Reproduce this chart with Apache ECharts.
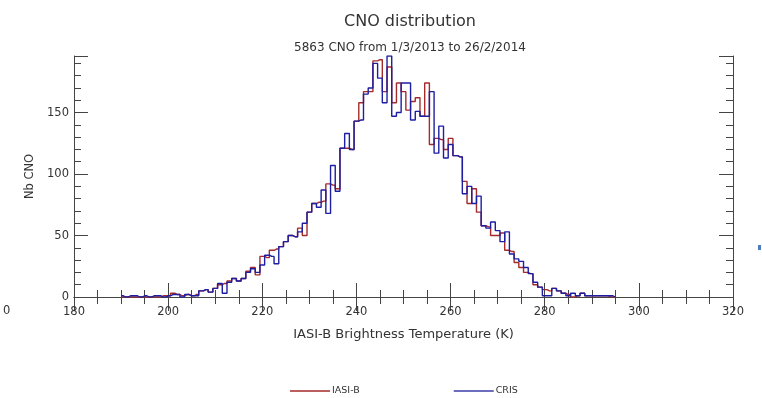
<!DOCTYPE html>
<html><head><meta charset="utf-8">
<script src="https://cdn.jsdelivr.net/npm/echarts@6/dist/echarts.min.js"></script>
<style>html,body{margin:0;padding:0;background:#fff}#c{width:762px;height:398px}</style>
</head><body><div id="c"></div>
<script>
// Bin centres (K), 1 K bins starting at 190 K
const binStart = 190;
const iasiB = [
  0,0,0,0,0,0,0,0,0,1,
  1,3,2,1,2,1,2,5,6,4,
  7,10,11,13,15,13,15,21,24,18,
  33,32,38,39,41,45,50,49,56,50,
  69,76,77,78,92,91,88,121,121,120,
  143,158,167,167,192,193,167,187,158,174,
  167,152,159,162,147,174,124,129,128,120,
  129,115,114,94,76,88,69,58,57,50,
  50,52,38,37,28,24,20,19,10,8,
  6,5,7,5,3,2,0,1,3,1,
  1,1,1,1,0,0
];
const cris = [
  1,0,1,1,0,1,0,1,1,0,
  1,2,2,0,2,1,1,5,6,4,
  7,11,3,12,15,13,15,20,23,20,
  26,34,33,27,41,45,50,49,53,60,
  69,76,73,87,68,107,86,121,133,120,
  143,144,165,170,190,178,158,196,147,150,
  174,174,144,151,147,147,167,117,139,113,
  124,115,114,84,90,76,82,58,56,61,
  54,45,53,35,31,29,24,19,12,8,
  1,1,7,5,3,1,3,1,3,1,
  1,1,1,1,1,0
];
const xTickLabels = [180,200,220,240,260,280,300,320];
const yTickLabels = [0,50,100,150];
const seriesNames = ['IASI-B','CRIS'];

const toPts = arr => arr.map((v,i) => [binStart + i, v]);
const FONT = 'DejaVu Sans';
const TXT = '#333';
const AX = '#444';

const chart = echarts.init(document.getElementById('c'), null, {renderer:'canvas'});
const common = {
  axisLine:{show:true, lineStyle:{color:AX, width:1}},
  splitLine:{show:false},
  axisTick:{show:true, inside:true, length:14, lineStyle:{color:AX}},
};
chart.setOption({
  animation:false,
  backgroundColor:'#fff',
  title:[
    {text:'CNO distribution', top:9, left:405, textAlign:'center', textStyle:{fontFamily:FONT, fontSize:16, fontWeight:'normal', color:TXT}},
    {text:'5863 CNO from 1/3/2013 to 26/2/2014', top:37, left:405, textAlign:'center', textStyle:{fontFamily:FONT, fontSize:12, fontWeight:'normal', color:TXT}}
  ],
  grid:{left:74, right:29, top:56, bottom:101},
  legend:{
    left:285, top:381, icon:'rect', itemWidth:40, itemHeight:1.5, itemGap:94,
    data:seriesNames,
    textStyle:{fontFamily:FONT, fontSize:9.5, color:TXT, padding:[0,0,0,-3]}
  },
  xAxis:[
    Object.assign({type:'value', min:xTickLabels[0], max:xTickLabels[xTickLabels.length-1], interval:20, position:'bottom',
      minorTick:{show:true, splitNumber:4, length:7, lineStyle:{color:AX}},
      axisLabel:{fontFamily:FONT, fontSize:11.5, color:TXT, margin:9},
      name:'IASI-B Brightness Temperature (K)', nameLocation:'middle', nameGap:31,
      nameTextStyle:{fontFamily:FONT, fontSize:13, color:TXT}}, common),
    Object.assign({type:'value', min:xTickLabels[0], max:xTickLabels[xTickLabels.length-1], interval:20, position:'top',
      minorTick:{show:true, splitNumber:4, length:7, lineStyle:{color:AX}},
      axisLabel:{show:false}}, common)
  ],
  yAxis:[
    Object.assign({type:'value', min:0, max:196, interval:50, position:'left',
      minorTick:{show:true, splitNumber:5, length:7, lineStyle:{color:AX}},
      axisLabel:{fontFamily:FONT, fontSize:11.5, color:TXT, margin:5, showMaxLabel:false,
        formatter: v => yTickLabels.includes(v) ? String(v) : ''},
      name:'Nb CNO', nameLocation:'middle', nameGap:37,
      nameTextStyle:{fontFamily:FONT, fontSize:11.5, color:TXT}}, common),
    Object.assign({type:'value', min:0, max:196, interval:50, position:'right',
      minorTick:{show:true, splitNumber:5, length:7, lineStyle:{color:AX}},
      axisLabel:{show:false}}, common)
  ],
  series:[
    {name:seriesNames[0], type:'line', step:'middle', showSymbol:false, data:toPts(iasiB),
     lineStyle:{color:'#a52a2a', width:1.4}, itemStyle:{color:'#a52a2a'}},
    {name:seriesNames[1], type:'line', step:'middle', showSymbol:false, data:toPts(cris),
     lineStyle:{color:'#1e1ea2', width:1.4}, itemStyle:{color:'#3c3ca8'}}
  ],
  graphic:[
    {type:'text', left:3, top:305, style:{text:'0', fontFamily:FONT, fontSize:11.5, fill:TXT}},
    {type:'rect', shape:{x:758, y:245, width:3, height:5}, style:{fill:'#4a7ec0'}}
  ]
});
</script></body></html>
